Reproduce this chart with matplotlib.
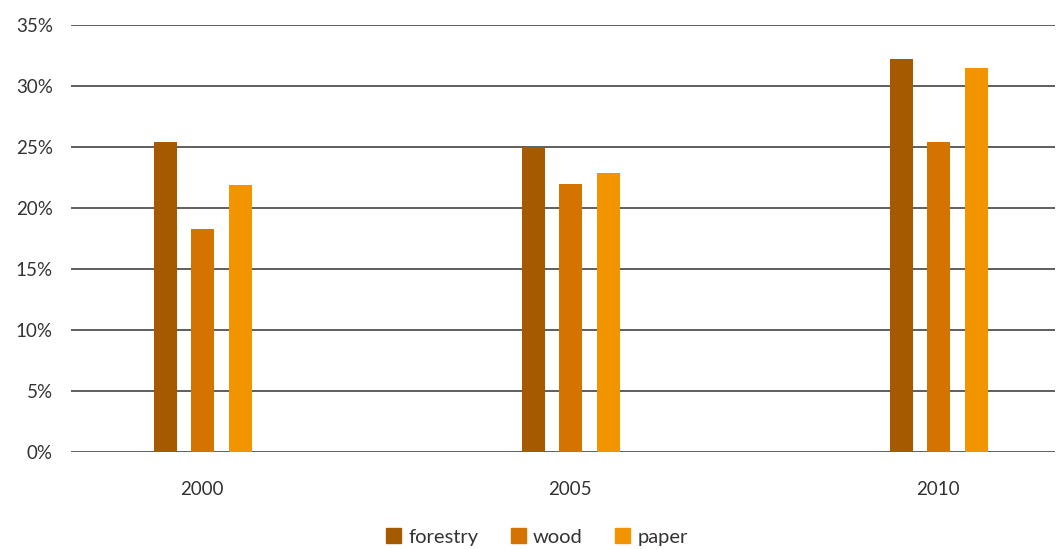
import numpy as np
import matplotlib
matplotlib.use("Agg")
import matplotlib.pyplot as plt
from matplotlib.patches import Patch

plt.rcParams['font.family'] = ['Lato', 'DejaVu Sans']

years = ['2000', '2005', '2010']
series = ['forestry', 'wood', 'paper']
forestry = [25.4, 25.0, 32.2]
wood = [18.3, 22.0, 25.4]
paper = [21.9, 22.9, 31.5]
colors = ['#A65A00', '#D57300', '#F29400']

fig = plt.figure(figsize=(10.57, 5.49), dpi=100)
ax = fig.add_axes([0.067, 0.1767, 0.931, 0.7778])

x = np.arange(len(years))
w = 0.0625
step = 0.103
for i, (vals, c) in enumerate(zip([forestry, wood, paper], colors)):
    ax.bar(x + (i - 1) * step + 0.003, vals, width=w, color=c, zorder=3)

ax.set_ylim(0, 35)
ax.set_xlim(-0.356, 2.318)
ax.set_yticks(np.arange(0, 36, 5))
ax.set_yticklabels([f'{v}%' for v in range(0, 36, 5)])
ax.yaxis.grid(True, color='#333333', linewidth=1.1, zorder=1)
ax.set_axisbelow(True)
for s in ax.spines.values():
    s.set_visible(False)
ax.tick_params(axis='y', length=0, pad=13, labelsize=13.5, labelcolor='#333333')
ax.tick_params(axis='x', length=0, pad=21, labelsize=13.5, labelcolor='#333333')
ax.set_xticks(x)
ax.set_xticklabels(years)

handles = [Patch(color=c, label=s) for c, s in zip(colors, series)]
fig.legend(handles=handles, loc='center', bbox_to_anchor=(0.508, 0.022), ncol=3,
           frameon=False, fontsize=14.5, handlelength=0.75, handleheight=0.75,
           handletextpad=0.35, columnspacing=1.6, labelcolor='#333333')

fig.savefig('out.png', dpi=100)
